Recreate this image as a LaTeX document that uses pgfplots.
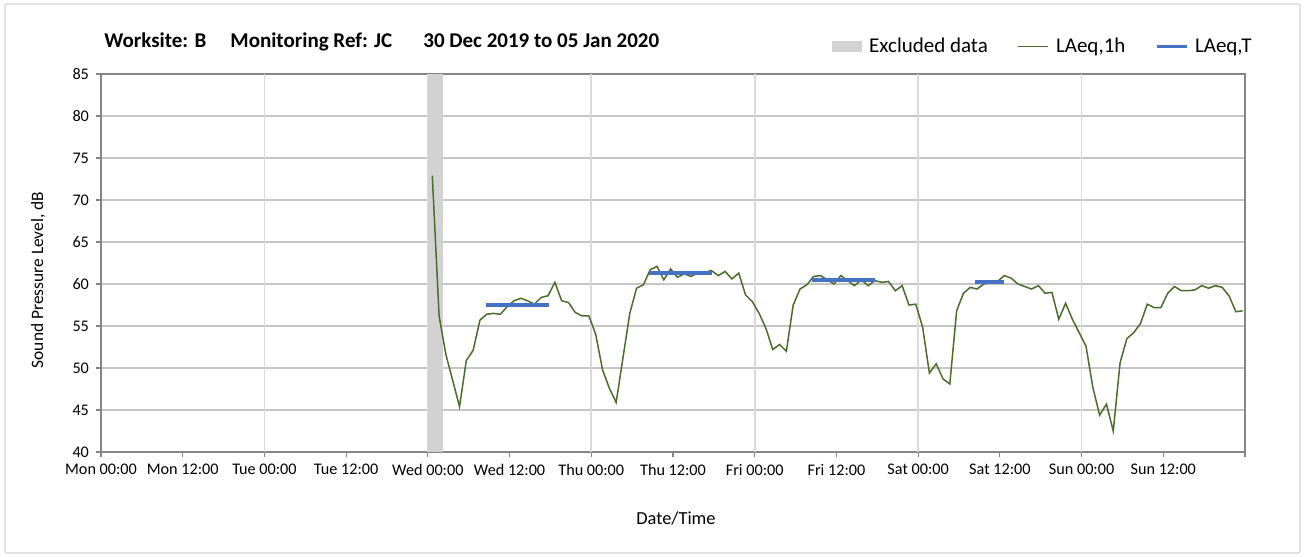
\documentclass[border=0pt]{standalone}
\usepackage{fontspec}
\setmainfont{Carlito}
\usepackage{pgfplots}
\pgfplotsset{compat=1.18}

\definecolor{excl}{RGB}{210,210,210}
\definecolor{laeqh}{RGB}{76,108,44}
\definecolor{laeqt}{RGB}{68,114,196}
\definecolor{axgray}{RGB}{134,134,134}
\definecolor{hgrid}{RGB}{198,198,198}
\definecolor{vgrid}{RGB}{218,218,218}

% hourly LAeq (hours from Mon 00:00)
\pgfplotstableread{
h L
48.65 72.9
49.65 56.2
50.65 51.6
51.65 48.5
52.65 45.4
53.65 50.9
54.65 52.1
55.65 55.7
56.65 56.4
57.65 56.5
58.65 56.4
59.65 57.3
60.65 58.0
61.65 58.3
62.65 58.0
63.65 57.6
64.65 58.4
65.65 58.6
66.65 60.2
67.65 58.0
68.65 57.8
69.65 56.6
70.65 56.2
71.65 56.2
72.65 54.0
73.65 49.8
74.65 47.6
75.65 45.9
76.65 51.2
77.65 56.5
78.65 59.5
79.65 59.9
80.65 61.7
81.65 62.1
82.65 60.5
83.65 61.8
84.65 60.8
85.65 61.2
86.65 60.9
87.65 61.3
88.65 61.4
89.65 61.6
90.65 61.0
91.65 61.5
92.65 60.6
93.65 61.3
94.65 58.7
95.65 57.9
96.65 56.5
97.65 54.7
98.65 52.2
99.65 52.8
100.65 52.0
101.65 57.5
102.65 59.4
103.65 59.9
104.65 60.9
105.65 61.0
106.65 60.5
107.65 60.0
108.65 61.0
109.65 60.4
110.65 59.8
111.65 60.5
112.65 59.8
113.65 60.4
114.65 60.2
115.65 60.3
116.65 59.2
117.65 59.8
118.65 57.5
119.65 57.6
120.65 54.9
121.65 49.4
122.65 50.5
123.65 48.7
124.65 48.1
125.65 56.8
126.65 58.9
127.65 59.6
128.65 59.4
129.65 60.0
130.65 60.2
131.65 60.3
132.65 61.0
133.65 60.7
134.65 60.0
135.65 59.7
136.65 59.4
137.65 59.8
138.65 58.9
139.65 59.0
140.65 55.8
141.65 57.7
142.65 55.8
143.65 54.2
144.65 52.6
145.65 47.7
146.65 44.4
147.65 45.7
148.65 42.5
149.65 50.6
150.65 53.5
151.65 54.2
152.65 55.3
153.65 57.6
154.65 57.2
155.65 57.2
156.65 58.9
157.65 59.7
158.65 59.2
159.65 59.2
160.65 59.3
161.65 59.8
162.65 59.5
163.65 59.8
164.65 59.6
165.65 58.6
166.65 56.7
167.65 56.8
}\hourly

\begin{document}
\begin{tikzpicture}
% 1 px of the reference = 0.5pt; axis box south west at (0,0)
\useasboundingbox (-50.5pt,-52pt) rectangle (604pt,226pt);
\draw[gray!35, line width=0.6pt, rounded corners=1pt] (-48pt,-50.5pt) rectangle (599.5pt,224pt);
\begin{axis}[
  at={(0,0)}, anchor=south west,
  scale only axis, width=572pt, height=189pt,
  xmin=0, xmax=168, ymin=40, ymax=85,
  xtick={0,12,...,168},
  xticklabels={Mon 00:00,Mon 12:00,Tue 00:00,Tue 12:00,Wed 00:00,Wed 12:00,Thu 00:00,Thu 12:00,Fri 00:00,Fri 12:00,Sat 00:00,Sat 12:00,Sun 00:00,Sun 12:00,{}},
  ytick={40,45,...,85},
  extra x ticks={24,48,...,144},
  extra x tick labels={},
  extra x tick style={grid=major, major grid style={vgrid, line width=0.9pt}},
  ymajorgrids,
  major grid style={hgrid, line width=0.9pt},
  tick pos=left, tick align=outside,
  major tick length=2.5pt,
  tick style={axgray, line width=0.6pt},
  axis line style={axgray, line width=0.6pt},
  /pgf/number format/assume math mode=true,
  ticklabel style={font=\fontsize{8.1}{9.5}\selectfont},
  label style={font=\fontsize{8.7}{10.5}\selectfont},
  xlabel={Date/Time},
  ylabel={Sound Pressure Level, dB},
  xlabel style={at={(axis description cs:0.5026,-0.175)}, anchor=center, font=\fontsize{9.2}{11}\selectfont},
  ylabel style={at={(axis description cs:-0.055,0.455)}, anchor=center},
  unbounded coords=jump,
  legend columns=3,
  legend style={draw=none, fill=none, at={(axis description cs:0.639,1.072)}, anchor=west,
    font=\fontsize{10.5}{13}\selectfont, inner sep=0pt,
    /tikz/every odd column/.append style={column sep=1.5pt},
    /tikz/every even column/.append style={column sep=13pt}},
]
\addplot[fill=excl, draw=none, forget plot] coordinates {(48.05,40) (48.05,85) (50.15,85) (50.15,40)} -- cycle;
\addlegendimage{legend image code/.code={\fill[excl] (0pt,-2.5pt) rectangle (14.5pt,2.5pt);}}
\addlegendentry{Excluded data}
\addplot[laeqh, line width=0.75pt,
  legend image code/.code={\draw[laeqh, line width=0.6pt] (0pt,0pt) -- (15pt,0pt);}]
  table[x=h, y=L] {\hourly};
\addlegendentry{LAeq,1h}
\addplot[laeqt, line width=1.9pt,
  legend image code/.code={\draw[laeqt, line width=1.3pt] (0pt,0pt) -- (15pt,0pt);}]
  coordinates {(56.5,57.5) (65.8,57.5) (nan,nan)
               (80.5,61.35) (89.7,61.35) (nan,nan)
               (104.4,60.5) (113.6,60.5) (nan,nan)
               (128.4,60.25) (132.6,60.25)};
\addlegendentry{LAeq,T}
\end{axis}
\begin{scope}[every node/.style={font=\bfseries\fontsize{10.5}{12}\selectfont, anchor=base west, inner sep=0pt}]
\node at (1.5pt,202pt) {Worksite: B};
\node at (64.5pt,202pt) {Monitoring Ref: JC};
\node at (161pt,202pt) {30 Dec 2019 to 05 Jan 2020};
\end{scope}
\end{tikzpicture}
\end{document}
